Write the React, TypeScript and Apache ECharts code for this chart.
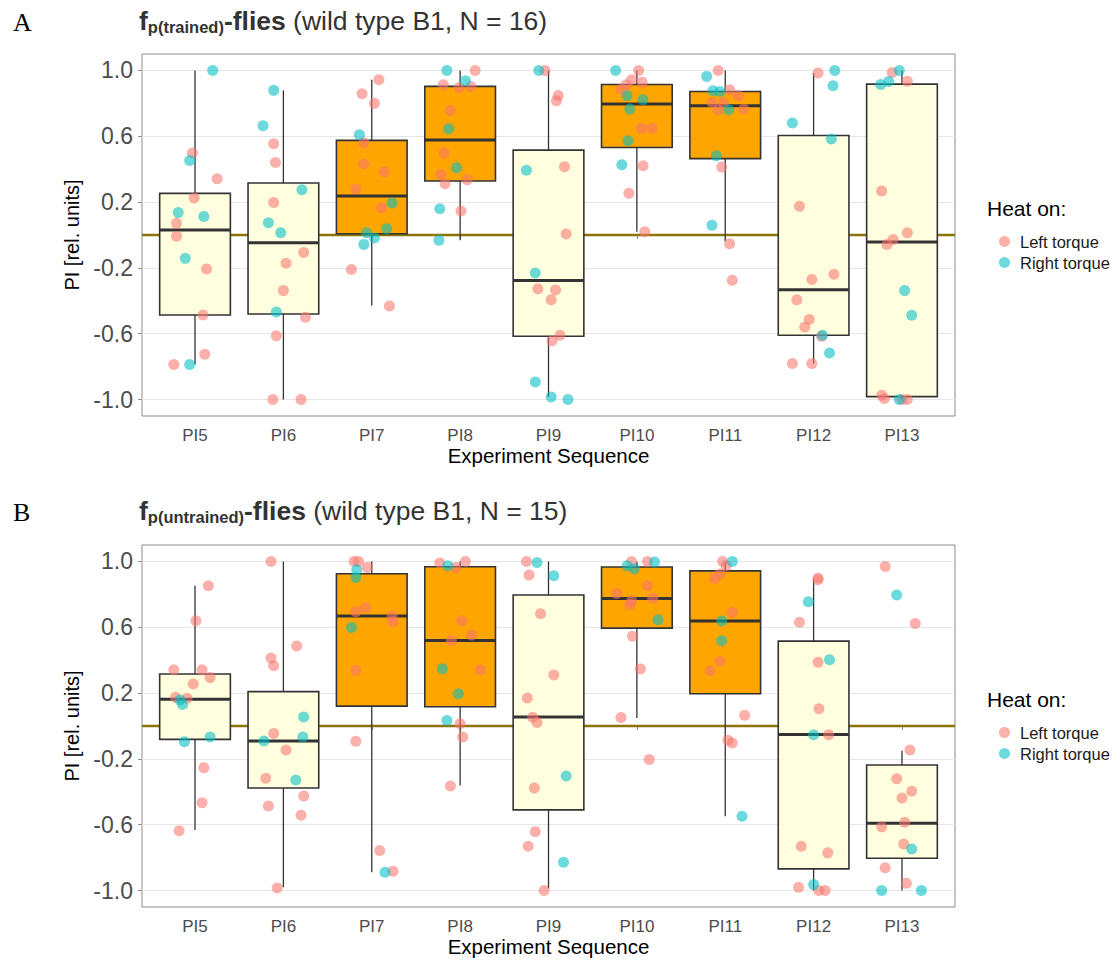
import React, { useEffect, useRef } from "react";
import * as echarts from "echarts";

const CATEGORIES = ["PI5", "PI6", "PI7", "PI8", "PI9", "PI10", "PI11", "PI12", "PI13"];
const ORANGE_CATS = ["PI7", "PI8", "PI10", "PI11"];
const Y_TICKS = [-1.0, -0.6, -0.2, 0.2, 0.6, 1.0];

// Box statistics per category: [lower whisker, Q1, median, Q3, upper whisker]
const BOX_A = [
  [-0.787, -0.486, 0.03, 0.253, 1.0],
  [-1.0, -0.48, -0.047, 0.316, 0.879],
  [-0.429, 0.008, 0.237, 0.575, 0.943],
  [-0.032, 0.328, 0.577, 0.903, 1.0],
  [-0.984, -0.615, -0.277, 0.516, 1.0],
  [0.02, 0.532, 0.796, 0.915, 1.0],
  [-0.038, 0.464, 0.785, 0.872, 1.0],
  [-0.781, -0.609, -0.332, 0.605, 0.984],
  [-1.0, -0.982, -0.043, 0.917, 1.0],
];
const BOX_B = [
  [-0.632, -0.081, 0.162, 0.316, 0.852],
  [-0.98, -0.377, -0.091, 0.209, 1.0],
  [-0.889, 0.121, 0.668, 0.925, 1.0],
  [-0.362, 0.117, 0.52, 0.968, 1.0],
  [-0.988, -0.51, 0.055, 0.796, 1.0],
  [0.049, 0.595, 0.775, 0.966, 1.0],
  [-0.549, 0.196, 0.638, 0.943, 1.0],
  [-1.0, -0.868, -0.051, 0.516, 0.893],
  [-1.0, -0.804, -0.591, -0.237, -0.15],
];

// Individual flies per category: [horizontal jitter (category units), PI]
const LEFT_A = [
  [[-0.03, 0.498], [0.25, 0.342], [-0.01, 0.225], [-0.21, 0.071], [-0.21, -0.008], [0.13, -0.206], [0.09, -0.486], [0.11, -0.725], [-0.24, -0.787]],
  [[-0.11, 0.555], [-0.09, 0.441], [-0.11, 0.198], [0.23, -0.107], [0.03, -0.172], [0.0, -0.338], [0.25, -0.5], [-0.08, -0.613], [-0.12, -1.0], [0.2, -1.0]],
  [[0.08, 0.943], [-0.11, 0.858], [0.03, 0.8], [-0.09, 0.561], [-0.09, 0.431], [0.14, 0.385], [-0.18, 0.279], [0.11, 0.166], [-0.23, -0.209], [0.2, -0.431]],
  [[0.17, 1.0], [-0.19, 0.913], [-0.01, 0.897], [0.12, 0.903], [-0.11, 0.757], [-0.18, 0.498], [-0.22, 0.368], [0.08, 0.336], [-0.17, 0.312], [0.01, 0.146]],
  [[-0.04, 1.0], [0.11, 0.848], [0.09, 0.816], [0.18, 0.415], [0.2, 0.006], [-0.12, -0.326], [0.08, -0.334], [0.03, -0.393], [0.13, -0.609], [0.04, -0.642]],
  [[0.02, 1.0], [-0.06, 0.943], [0.06, 0.929], [-0.12, 0.913], [-0.18, 0.885], [0.05, 0.648], [0.17, 0.648], [0.07, 0.421], [-0.09, 0.253], [0.09, 0.02]],
  [[-0.08, 1.0], [0.05, 0.883], [0.15, 0.846], [-0.15, 0.806], [-0.02, 0.806], [-0.08, 0.761], [0.21, 0.765], [-0.04, 0.413], [0.05, -0.053], [0.08, -0.275]],
  [[0.05, 0.984], [-0.16, 0.174], [-0.02, -0.271], [0.23, -0.239], [-0.19, -0.393], [-0.05, -0.514], [-0.1, -0.559], [0.09, -0.615], [-0.24, -0.781], [-0.02, -0.781]],
  [[-0.11, 0.988], [0.06, 0.935], [-0.23, 0.267], [0.06, 0.014], [-0.1, -0.028], [-0.17, -0.057], [-0.23, -0.974], [-0.2, -0.994], [0.0, -1.0], [0.06, -1.0]],
];
const RIGHT_A = [
  [[0.2, 1.0], [-0.06, 0.453], [-0.19, 0.136], [0.1, 0.113], [-0.11, -0.142], [-0.06, -0.787]],
  [[-0.11, 0.879], [-0.23, 0.664], [0.21, 0.275], [-0.17, 0.075], [-0.03, 0.014], [-0.08, -0.468]],
  [[-0.14, 0.609], [0.23, 0.194], [0.17, 0.038], [-0.06, 0.014], [0.03, -0.018], [-0.09, -0.057]],
  [[-0.15, 1.0], [0.06, 0.937], [-0.13, 0.646], [-0.04, 0.409], [-0.23, 0.16], [-0.24, -0.032]],
  [[-0.11, 1.0], [-0.25, 0.393], [-0.15, -0.231], [-0.15, -0.893], [0.03, -0.984], [0.22, -1.0]],
  [[-0.24, 1.0], [-0.11, 0.846], [0.07, 0.822], [-0.08, 0.765], [-0.1, 0.573], [-0.17, 0.427]],
  [[-0.21, 0.964], [-0.14, 0.877], [-0.06, 0.872], [0.04, 0.761], [-0.1, 0.482], [-0.15, 0.059]],
  [[0.24, 1.0], [0.22, 0.907], [-0.24, 0.68], [0.2, 0.583], [0.1, -0.609], [0.18, -0.717]],
  [[-0.03, 1.0], [-0.15, 0.933], [-0.24, 0.915], [0.03, -0.338], [0.11, -0.488], [-0.03, -1.0]],
];
const LEFT_B = [
  [[0.15, 0.852], [0.01, 0.64], [-0.24, 0.342], [0.08, 0.342], [0.17, 0.294], [-0.02, 0.255], [-0.22, 0.174], [-0.09, 0.168], [0.1, -0.253], [0.08, -0.466], [-0.18, -0.636]],
  [[-0.14, 1.0], [0.15, 0.486], [-0.14, 0.413], [-0.11, 0.366], [-0.11, -0.045], [0.03, -0.146], [-0.2, -0.318], [0.23, -0.425], [-0.17, -0.486], [0.2, -0.543], [-0.07, -0.984]],
  [[-0.2, 1.0], [-0.15, 1.0], [-0.05, 0.964], [-0.07, 0.719], [-0.18, 0.694], [0.23, 0.668], [0.24, 0.634], [-0.18, 0.338], [-0.18, -0.093], [0.09, -0.757], [0.24, -0.883]],
  [[-0.23, 0.99], [-0.05, 0.964], [0.06, 1.0], [0.02, 0.64], [0.13, 0.553], [-0.1, 0.52], [0.23, 0.34], [0.0, 0.014], [0.03, -0.067], [-0.11, -0.364]],
  [[-0.25, 1.0], [-0.22, 0.917], [-0.09, 0.682], [0.06, 0.31], [-0.24, 0.17], [-0.18, 0.053], [-0.13, 0.022], [-0.16, -0.377], [-0.15, -0.642], [-0.23, -0.731], [-0.05, -1.0]],
  [[-0.06, 1.0], [0.12, 1.0], [0.12, 0.852], [-0.23, 0.806], [0.18, 0.777], [-0.06, 0.759], [-0.08, 0.737], [-0.05, 0.545], [0.04, 0.346], [-0.18, 0.051], [0.14, -0.204]],
  [[-0.03, 1.0], [0.01, 0.974], [-0.06, 0.923], [-0.12, 0.897], [0.08, 0.69], [-0.06, 0.393], [-0.17, 0.336], [0.22, 0.065], [0.03, -0.087], [0.08, -0.103]],
  [[0.05, 0.899], [0.05, 0.889], [-0.16, 0.63], [0.05, 0.387], [0.06, 0.105], [0.17, -0.053], [-0.14, -0.731], [0.16, -0.771], [-0.17, -0.98], [0.06, -1.0], [0.13, -1.0]],
  [[-0.19, 0.97], [0.15, 0.623], [0.09, -0.146], [-0.06, -0.32], [0.11, -0.397], [0.0, -0.437], [0.03, -0.585], [-0.23, -0.613], [0.02, -0.717], [-0.19, -0.862], [0.05, -0.955]],
];
const RIGHT_B = [
  [[-0.17, 0.158], [-0.14, 0.13], [0.17, -0.067], [-0.12, -0.095]],
  [[0.23, 0.055], [0.22, -0.067], [-0.22, -0.091], [0.14, -0.328]],
  [[-0.17, 0.949], [-0.18, 0.903], [-0.23, 0.599], [0.15, -0.889]],
  [[-0.14, 0.974], [-0.2, 0.348], [-0.02, 0.196], [-0.15, 0.034]],
  [[-0.13, 0.994], [0.06, 0.913], [0.2, -0.304], [0.17, -0.828]],
  [[0.2, 0.996], [-0.11, 0.974], [-0.03, 0.955], [0.24, 0.646]],
  [[0.08, 1.0], [-0.04, 0.638], [-0.04, 0.518], [0.19, -0.549]],
  [[-0.06, 0.755], [0.18, 0.403], [0.0, -0.053], [0.0, -0.964]],
  [[-0.06, 0.796], [0.11, -0.747], [-0.23, -1.0], [0.22, -1.0]],
];

const TITLES = [
  { panel: "A", sub: "p(trained)", rest: " (wild type B1, N = 16)" },
  { panel: "B", sub: "p(untrained)", rest: " (wild type B1, N = 15)" },
];

const LEFT_COLOR = "rgba(248,118,109,0.72)";
const RIGHT_COLOR = "rgba(0,191,196,0.72)";

const GRID_TOPS = [54, 545];
const GRID_H = 362;

function makePoints(groups: number[][][]) {
  return groups.flatMap((g, i) => g.map(([dx, v]) => [i + 1 + dx, v]));
}

function makeBoxes(stats: number[][]) {
  return stats.map((s, i) => [i + 1, ...s, ORANGE_CATS.includes(CATEGORIES[i]) ? 1 : 0]);
}

function renderBox(params: any, api: any) {
  const x = api.value(0);
  const lo = api.coord([x, api.value(1)]);
  const q1 = api.coord([x, api.value(2)]);
  const md = api.coord([x, api.value(3)]);
  const q3 = api.coord([x, api.value(4)]);
  const hi = api.coord([x, api.value(5)]);
  const w = api.size([0.8, 0])[0];
  const fill = api.value(6) ? "#FFA500" : "#FFFFE0";
  const stroke = "#333333";
  return {
    type: "group",
    children: [
      { type: "line", shape: { x1: lo[0], y1: lo[1], x2: q1[0], y2: q1[1] }, style: { stroke, lineWidth: 1.3 } },
      { type: "line", shape: { x1: q3[0], y1: q3[1], x2: hi[0], y2: hi[1] }, style: { stroke, lineWidth: 1.3 } },
      {
        type: "rect",
        shape: { x: q3[0] - w / 2, y: q3[1], width: w, height: q1[1] - q3[1] },
        style: { fill, stroke, lineWidth: 1.6 },
      },
      { type: "line", shape: { x1: md[0] - w / 2, y1: md[1], x2: md[0] + w / 2, y2: md[1] }, style: { stroke, lineWidth: 3 } },
    ],
  };
}

export default function App() {
  const ref = useRef<HTMLDivElement>(null);

  useEffect(() => {
    document.body.style.margin = "0";
    if (!ref.current) return;
    const chart = echarts.init(ref.current, null, { renderer: "svg" });

    const font = "'Liberation Sans', Arial, sans-serif";
    const panels = [0, 1];

    const grids = panels.map((p) => ({
      left: 142,
      top: GRID_TOPS[p],
      width: 813,
      height: GRID_H,
      show: true,
      borderColor: "#8c8c8c",
      borderWidth: 1,
      backgroundColor: "#ffffff",
      containLabel: false,
    }));

    const xAxes = panels.map((p) => ({
      type: "value",
      gridIndex: p,
      min: 0.4,
      max: 9.6,
      name: "Experiment Sequence",
      nameLocation: "middle",
      nameGap: 29,
      nameTextStyle: { fontSize: 20.5, color: "#000", fontFamily: font },
      axisLine: { show: false },
      splitLine: { show: false },
      axisTick: {
        show: true,
        length: 4,
        lineStyle: { color: "#8c8c8c" },
        customValues: CATEGORIES.map((_, i) => i + 1),
      },
      axisLabel: {
        fontSize: 17,
        color: "#4d4d4d",
        fontFamily: font,
        margin: 11,
        customValues: CATEGORIES.map((_, i) => i + 1),
        formatter: (v: number) => CATEGORIES[Math.round(v) - 1] ?? "",
      },
    }));

    const yAxes = panels.map((p) => ({
      type: "value",
      gridIndex: p,
      min: -1.1,
      max: 1.1,
      name: "PI [rel. units]",
      nameLocation: "middle",
      nameGap: 55,
      nameTextStyle: { fontSize: 20, color: "#000", fontFamily: font },
      axisLine: { show: false },
      axisTick: { show: true, length: 4, lineStyle: { color: "#8c8c8c" }, customValues: Y_TICKS },
      splitLine: { show: true, lineStyle: { color: "#e6e6e6", width: 1 } },
      axisLabel: {
        fontSize: 23,
        color: "#4d4d4d",
        fontFamily: font,
        margin: 9,
        customValues: Y_TICKS,
        formatter: (v: number) => v.toFixed(1),
      },
    }));

    const series: any[] = [];
    panels.forEach((p) => {
      series.push({
        type: "line",
        xAxisIndex: p,
        yAxisIndex: p,
        data: [
          [0.4, 0],
          [9.6, 0],
        ],
        symbol: "none",
        silent: true,
        z: 1,
        lineStyle: { color: "#8c7408", width: 2.6 },
      });
      series.push({
        type: "custom",
        xAxisIndex: p,
        yAxisIndex: p,
        data: makeBoxes(p === 0 ? BOX_A : BOX_B),
        renderItem: renderBox,
        encode: { x: 0, y: [1, 2, 3, 4, 5] },
        silent: true,
        z: 2,
      });
      series.push({
        type: "scatter",
        name: "Left torque",
        xAxisIndex: p,
        yAxisIndex: p,
        data: makePoints(p === 0 ? LEFT_A : LEFT_B),
        symbol: "circle",
        symbolSize: 11,
        itemStyle: { color: LEFT_COLOR },
        silent: true,
        z: 3,
      });
      series.push({
        type: "scatter",
        name: "Right torque",
        xAxisIndex: p,
        yAxisIndex: p,
        data: makePoints(p === 0 ? RIGHT_A : RIGHT_B),
        symbol: "circle",
        symbolSize: 11,
        itemStyle: { color: RIGHT_COLOR },
        silent: true,
        z: 3,
      });
    });

    const titles: any[] = [];
    TITLES.forEach((t, p) => {
      const top = p === 0 ? 4 : 494;
      titles.push({
        text: t.panel,
        left: 8,
        top: top,
        textStyle: { fontFamily: "'Liberation Serif', 'Times New Roman', serif", fontSize: 26, fontWeight: "normal", color: "#000" },
      });
      titles.push({
        text: `{b|f}{s|${t.sub}}{b|-flies}{n|${t.rest}}`,
        left: 134,
        top: top - 4,
        textStyle: {
          rich: {
            b: { fontSize: 26.5, fontWeight: "bold", color: "#333", fontFamily: font, lineHeight: 32 },
            s: { fontSize: 16.5, fontWeight: "bold", color: "#333", fontFamily: font, lineHeight: 32, padding: [12, 0, 0, 0] },
            n: { fontSize: 26.5, fontWeight: "normal", color: "#333", fontFamily: font, lineHeight: 32 },
          },
        },
      });
    });

    const legends = panels.map((p) => ({
      orient: "vertical",
      left: 994,
      top: GRID_TOPS[p] + 174,
      itemWidth: 11,
      itemHeight: 11,
      itemGap: 4,
      selectedMode: false,
      data: ["Left torque", "Right torque"],
      textStyle: { fontSize: 16.5, color: "#1a1a1a", fontFamily: font, padding: [0, 0, 0, 5] },
    }));

    const graphics = panels.map((p) => ({
      type: "text",
      left: 987,
      top: GRID_TOPS[p] + 144,
      style: { text: "Heat on:", fontSize: 21, fill: "#000", fontFamily: font },
    }));

    chart.setOption({
      animation: false,
      backgroundColor: "#ffffff",
      title: titles,
      grid: grids,
      xAxis: xAxes,
      yAxis: yAxes,
      legend: legends,
      graphic: graphics,
      series,
    });

    return () => chart.dispose();
  }, []);

  return <div ref={ref} style={{ width: 1118, height: 960 }} />;
}
